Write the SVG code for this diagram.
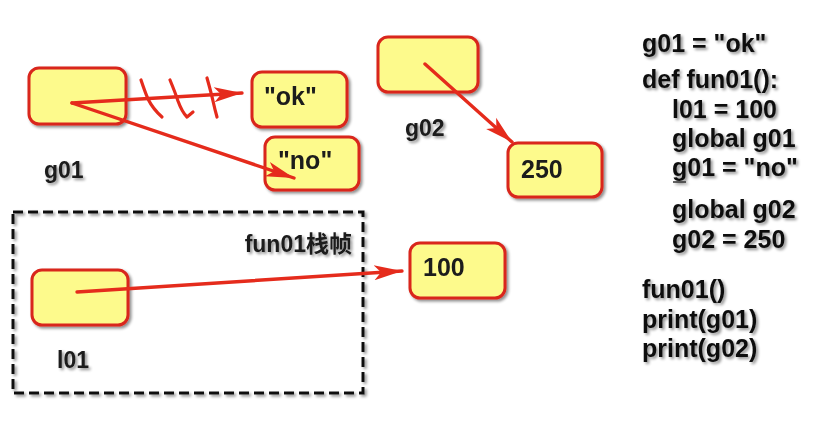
<svg xmlns="http://www.w3.org/2000/svg" width="817" height="421" viewBox="0 0 817 421">
  <style>
    .box { fill: #fdfa8c; stroke: #d9251a; stroke-width: 3; }
    .lbl { font-family: "Liberation Sans", "Noto Sans CJK SC", Arial, sans-serif; font-weight: bold; font-size: 23px; fill: #1a1a1a; }
    .val { font-family: "Liberation Sans", Arial, sans-serif; font-weight: bold; font-size: 25px; fill: #1a1a1a; }
    .code { font-family: "Liberation Sans", Arial, sans-serif; font-weight: bold; font-size: 25px; fill: #111; }
    .wire { fill: none; stroke: #e52b1c; stroke-width: 3.4; stroke-linecap: round; }
    .hatch { fill: none; stroke: #e52b1c; stroke-width: 3.2; stroke-linecap: round; stroke-linejoin: round; }
  </style>
  <defs>
    <filter id="shadow" x="-20%" y="-20%" width="140%" height="150%">
      <feGaussianBlur in="SourceAlpha" stdDeviation="1.6"/>
      <feOffset dx="1.5" dy="2" result="b"/>
      <feComponentTransfer><feFuncA type="linear" slope="0.45"/></feComponentTransfer>
      <feMerge><feMergeNode/><feMergeNode in="SourceGraphic"/></feMerge>
    </filter>
    <marker id="arrow" markerUnits="userSpaceOnUse" markerWidth="32" markerHeight="20" refX="28" refY="10" orient="auto">
      <path d="M0,2.5 L28,10 L0,17.5 L7,10 Z" fill="#e52b1c"/>
    </marker>
  </defs>

  <rect width="817" height="421" fill="#ffffff"/>

  <!-- stack frame of fun01 -->
  <g id="frame">
    <rect x="13" y="212" width="350" height="181" fill="none" stroke="#111" stroke-width="3" stroke-dasharray="10 5" filter="url(#shadow)"/>
    <text class="lbl" x="352" y="252" text-anchor="end" font-size="24" filter="url(#shadow)">fun01栈帧</text>
  </g>

  <g id="g01" filter="url(#shadow)">
    <rect class="box" x="29" y="68" width="97" height="56" rx="10"/>
    <text class="lbl" x="44" y="178">g01</text>
  </g>

  <g id="ok" filter="url(#shadow)">
    <rect class="box" x="252" y="72" width="95" height="55" rx="10"/>
    <text class="val" x="264" y="105">"ok"</text>
  </g>

  <g id="no" filter="url(#shadow)">
    <rect class="box" x="265" y="137" width="94" height="53" rx="10"/>
    <text class="val" x="278" y="169">"no"</text>
  </g>

  <g id="g02" filter="url(#shadow)">
    <rect class="box" x="378" y="37" width="100" height="55" rx="10"/>
    <text class="lbl" x="405" y="136">g02</text>
  </g>

  <g id="v250" filter="url(#shadow)">
    <rect class="box" x="508" y="143" width="94" height="54" rx="10"/>
    <text class="val" x="521" y="178">250</text>
  </g>

  <g id="l01" filter="url(#shadow)">
    <rect class="box" x="32" y="270" width="96" height="55" rx="10"/>
    <text class="lbl" x="57" y="368">l01</text>
  </g>

  <g id="v100" filter="url(#shadow)">
    <rect class="box" x="410" y="243" width="95" height="55" rx="10"/>
    <text class="val" x="423" y="276">100</text>
  </g>

  <!-- references -->
  <g id="connectors">
    <line class="wire" x1="72" y1="103" x2="242" y2="93" marker-end="url(#arrow)"/>
    <!-- crossed-out old reference -->
    <path class="hatch" d="M141,80 Q145,92 148,99 Q153,109 162,117"/>
    <path class="hatch" d="M170,80 Q175,92 178,101 Q182,112 187,117 L193,112"/>
    <path class="hatch" d="M207,78 Q211,92 213,101 Q215,110 217,117"/>
    <line class="wire" x1="72" y1="103" x2="294" y2="178" marker-end="url(#arrow)"/>
    <line class="wire" x1="425" y1="64" x2="512" y2="142" marker-end="url(#arrow)"/>
    <line class="wire" x1="77" y1="292" x2="402" y2="271" marker-end="url(#arrow)"/>
  </g>

  <!-- source code -->
  <g id="code" filter="url(#shadow)">
    <text class="code" x="642" y="52">g01 = "ok"</text>
    <text class="code" x="642" y="88">def fun01():</text>
    <text class="code" x="672" y="118">l01 = 100</text>
    <text class="code" x="672" y="147">global g01</text>
    <text class="code" x="672" y="176">g01 = "no"</text>
    <line x1="673" y1="182" x2="686" y2="182" stroke="#333" stroke-width="1.5"/>
    <text class="code" x="672" y="218">global g02</text>
    <text class="code" x="672" y="248">g02 = 250</text>
    <text class="code" x="642" y="298">fun01()</text>
    <text class="code" x="642" y="328">print(g01)</text>
    <text class="code" x="642" y="357">print(g02)</text>
  </g>
</svg>
